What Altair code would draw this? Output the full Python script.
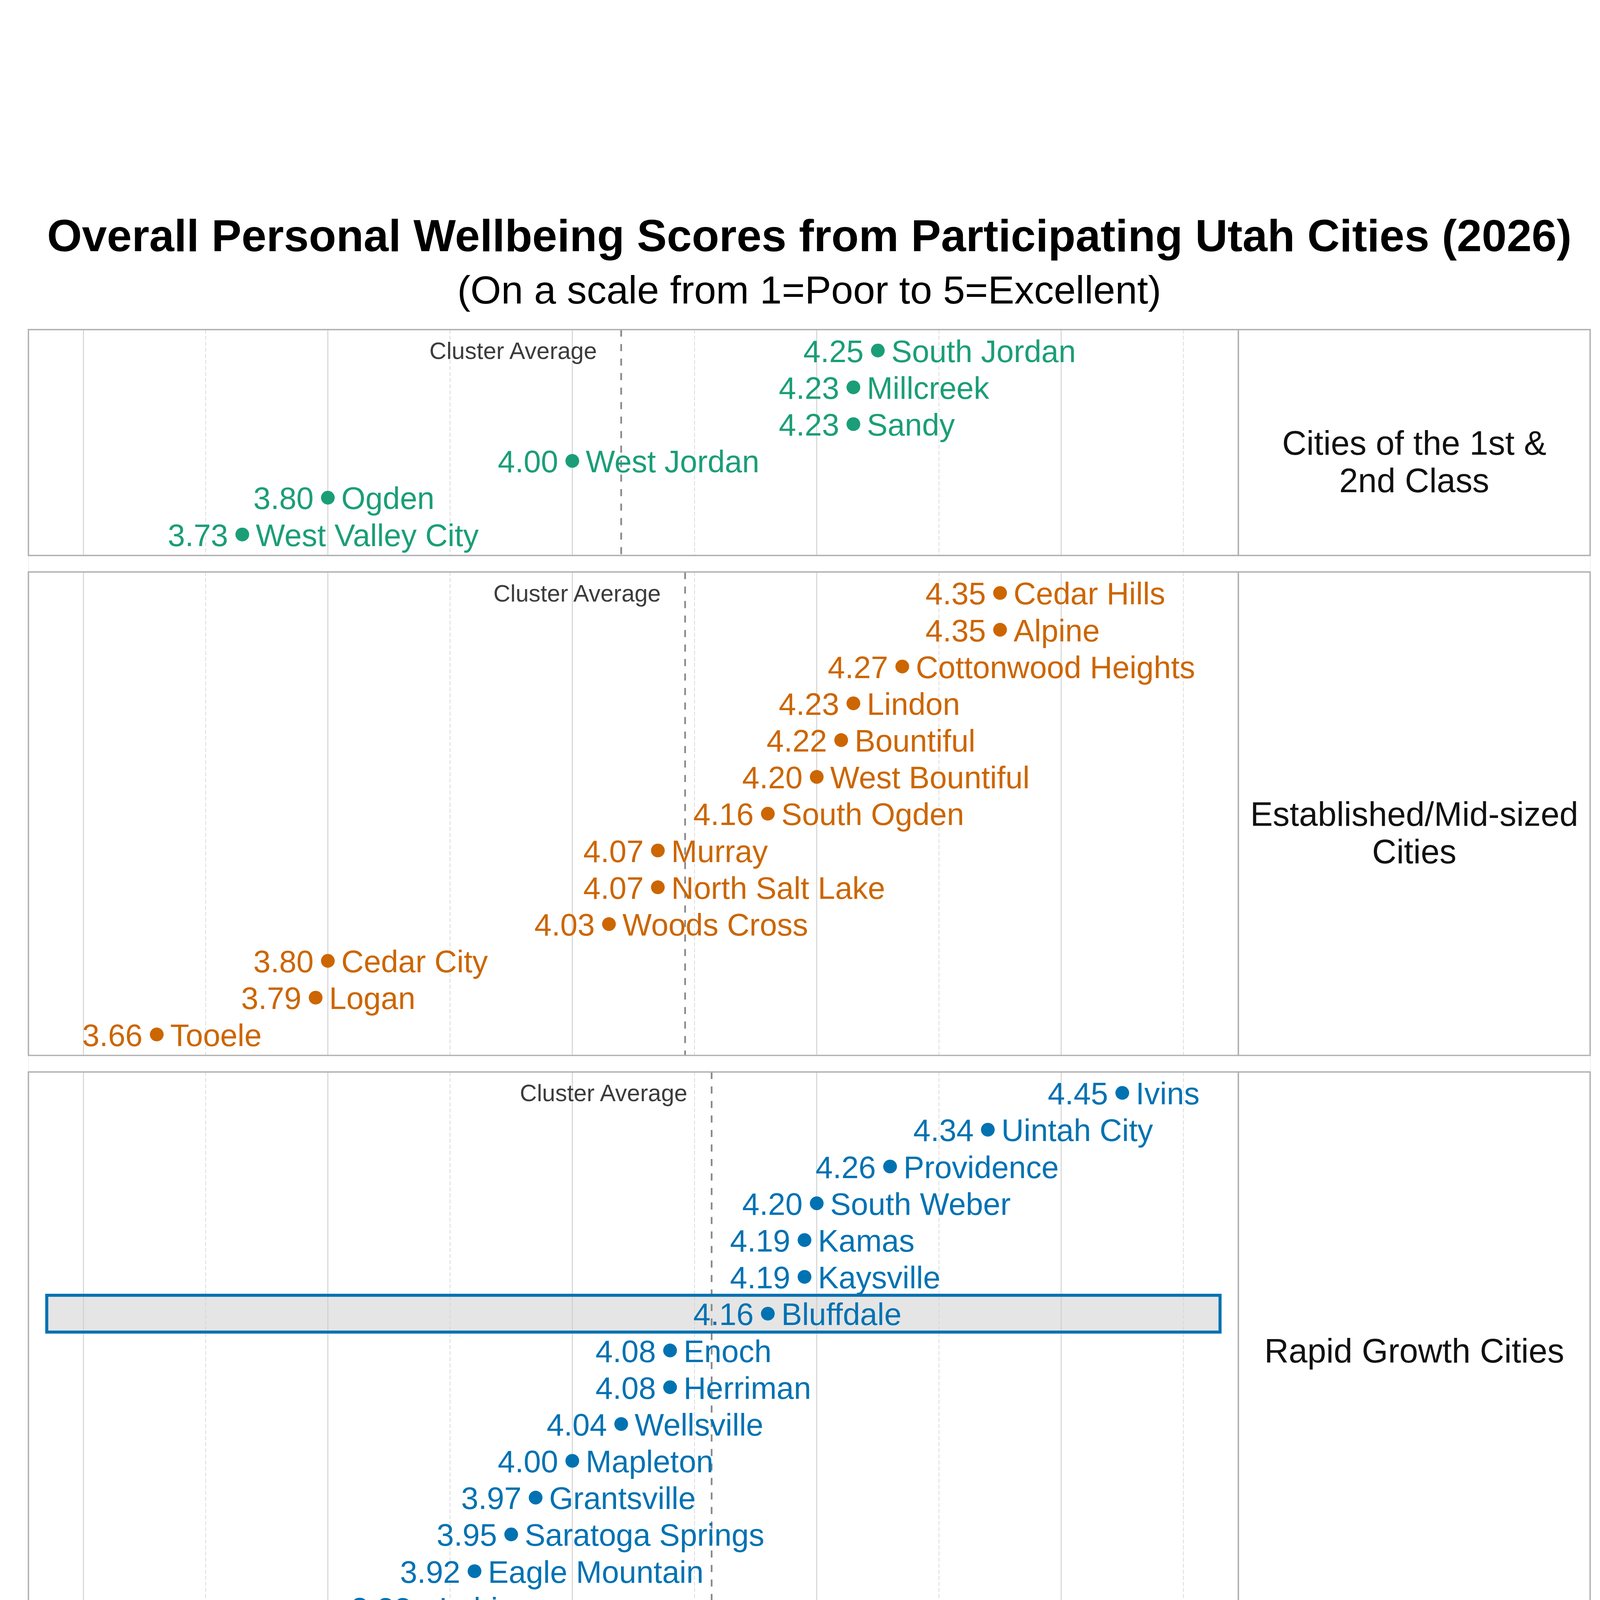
import altair as alt
import pandas as pd

FONT = "Liberation Sans"

TITLE = "Overall Personal Wellbeing Scores from Participating Utah Cities (2026)"
SUBTITLE = "(On a scale from 1=Poor to 5=Excellent)"
X_TITLE = "Average Score"
AVG_LABEL = "Cluster Average"

CLUSTERS = [
    "Cities of the 1st & 2nd Class",
    "Established/Mid-sized Cities",
    "Rapid Growth Cities",
    "Rural Hub/Resort Communities",
    "Traditional Rural Communities",
]
STRIP_LABELS = [
    "Cities of the 1st &\n2nd Class",
    "Established/Mid-sized\nCities",
    "Rapid Growth Cities",
    "Rural Hub/Resort\nCommunities",
    "Traditional Rural\nCommunities",
]
COLORS = ["#1b9e77", "#cc6600", "#0072b2", "#b01a2e", "#6a3d9a"]

cities1 = ["South Jordan", "Millcreek", "Sandy", "West Jordan", "Ogden", "West Valley City"]
scores1 = [4.25, 4.23, 4.23, 4.00, 3.80, 3.73]

cities2 = ["Cedar Hills", "Alpine", "Cottonwood Heights", "Lindon", "Bountiful",
           "West Bountiful", "South Ogden", "Murray", "North Salt Lake", "Woods Cross",
           "Cedar City", "Logan", "Tooele"]
scores2 = [4.35, 4.35, 4.27, 4.23, 4.22, 4.20, 4.16, 4.07, 4.07, 4.03, 3.80, 3.79, 3.66]

cities3 = ["Ivins", "Uintah City", "Providence", "South Weber", "Kamas", "Kaysville",
           "Bluffdale", "Enoch", "Herriman", "Wellsville", "Mapleton", "Grantsville",
           "Saratoga Springs", "Eagle Mountain", "Lehi"]
scores3 = [4.45, 4.34, 4.26, 4.20, 4.19, 4.19, 4.16, 4.08, 4.08, 4.04, 4.00, 3.97,
           3.95, 3.92, 3.88]

cities4 = ["Alta", "Midway", "Springdale", "Morgan", "Heber", "Manila", "Nephi",
           "Richfield", "Bluff", "Moab", "Blanding", "Vernal", "Tremonton", "Wendover"]
scores4 = [4.44, 4.38, 4.27, 4.23, 4.19, 4.13, 4.01, 3.99, 3.98, 3.81, 3.78, 3.75,
           3.72, 3.67]

cities5 = ["Mayfield", "Toquerville", "Lewiston", "Lake Point", "La Verkin",
           "Orangeville", "Stockton", "Ferron", "Delta"]
scores5 = [4.27, 4.24, 4.22, 4.13, 3.97, 3.96, 3.92, 3.89, 3.77]

CITIES = [cities1, cities2, cities3, cities4, cities5]
SCORES = [scores1, scores2, scores3, scores4, scores5]

MAJOR_TICKS = [3.6, 3.8, 4.0, 4.2, 4.4]
MINOR_TICKS = [3.7, 3.9, 4.1, 4.3, 4.5]
HIGHLIGHT_CITY = "Bluffdale"
HIGHLIGHT_X = [3.57, 4.53]

# ---- layout (pixels) ----
PX_PER_UNIT = 3624.2
PLOT_W = 3588
STRIP_W = 1043
ROW_H = 109.1            # pixels per row
EDGE = 0.57              # rows between panel edge and first/last dot
GAP = 49 / ROW_H         # gap between panels, in rows
TITLE_Y = -232           # title baseline, relative to top of first panel
SUBTITLE_Y = -77

X_MIN = 3.555
X_PLOT_MAX = X_MIN + PLOT_W / PX_PER_UNIT
X_MAX = X_PLOT_MAX + STRIP_W / PX_PER_UNIT
X_STRIP_MID = (X_PLOT_MAX + X_MAX) / 2

rows, panels = [], []
t = 0.0
for k, (cities, scores) in enumerate(zip(CITIES, SCORES)):
    n = len(cities)
    top, bot = t, t + n - 1 + 2 * EDGE
    panels.append({"cluster": CLUSTERS[k], "label": STRIP_LABELS[k], "top": top,
                   "bot": bot, "mid": (top + bot) / 2})
    for i, (c, s) in enumerate(zip(cities, scores)):
        rows.append({"cluster": CLUSTERS[k], "city": c, "score": s, "idx": i,
                     "ry": top + EDGE + i, "top": top, "bot": bot})
    t = bot + GAP
TOTAL = t - GAP

df = pd.DataFrame(rows)
pdf = pd.DataFrame(panels)
grid_major = pd.DataFrame([{"v": v, "top": p["top"], "bot": p["bot"]}
                           for p in panels for v in MAJOR_TICKS])
grid_minor = pd.DataFrame([{"v": v, "top": p["top"], "bot": p["bot"]}
                           for p in panels for v in MINOR_TICKS])
titles = pd.DataFrame({"t": [TITLE]})

W = PLOT_W + STRIP_W
H = round(TOTAL * ROW_H)

xscale = alt.Scale(domain=[X_MIN, X_MAX], nice=False, zero=False)
yscale = alt.Scale(domain=[0, TOTAL], nice=False, zero=False, reverse=True)
xaxis = alt.Axis(values=MAJOR_TICKS, format=".1f", title=X_TITLE, grid=False,
                 ticks=False, tickSize=0, domain=False, labelFontSize=75,
                 titleFontSize=83, labelPadding=16, titlePadding=41,
                 labelColor="#000000", titleColor="#000000", titleX=PLOT_W / 2,
                 titleFontWeight="normal", labelFont=FONT, titleFont=FONT,
                 labelFlush=False)


def X(f):
    return alt.X(f, scale=xscale, axis=xaxis)


def XD(v):
    return alt.XDatum(v, type="quantitative", scale=xscale, axis=xaxis)


def Y(f):
    return alt.Y(f, scale=yscale, axis=None)


color = alt.Color("cluster:N", scale=alt.Scale(domain=CLUSTERS, range=COLORS), legend=None)

base = alt.Chart(df)

hl = base.transform_filter(alt.datum.city == HIGHLIGHT_CITY).transform_calculate(
    y0="datum.ry - 0.5", y1="datum.ry + 0.5")
hl_fill = hl.mark_rect(fill="#e5e5e5").encode(
    x=XD(HIGHLIGHT_X[0]), x2=alt.X2Datum(HIGHLIGHT_X[1]), y=Y("y0:Q"), y2="y1:Q")
hl_line = hl.mark_rect(filled=False, stroke="#0072b2", strokeWidth=9).encode(
    x=XD(HIGHLIGHT_X[0]), x2=alt.X2Datum(HIGHLIGHT_X[1]), y=Y("y0:Q"), y2="y1:Q")

gmaj = alt.Chart(grid_major).mark_rule(color="#cccccc", strokeWidth=2.5).encode(
    x=X("v:Q"), y=Y("top:Q"), y2="bot:Q")
gmin = alt.Chart(grid_minor).mark_rule(color="#d4d4d4", strokeWidth=2,
                                       strokeDash=[12, 6]).encode(
    x=X("v:Q"), y=Y("top:Q"), y2="bot:Q")

avg = base.transform_joinaggregate(avg="mean(score)", groupby=["cluster"]).transform_filter(
    alt.datum.idx == 0)
avg_rule = avg.mark_rule(color="#888888", strokeWidth=5, strokeDash=[21, 22]).encode(
    x=X("avg:Q"), y=Y("top:Q"), y2="bot:Q")
avg_text = avg.mark_text(text=AVG_LABEL, align="right", baseline="middle", dx=-72, dy=4,
                         fontSize=70, color="#3c3c3c", font=FONT).encode(
    x=X("avg:Q"), y=Y("ry:Q"))

box_plot = alt.Chart(pdf).mark_rect(filled=False, stroke="#b0b0b0", strokeWidth=4).encode(
    x=XD(X_MIN), x2=alt.X2Datum(X_PLOT_MAX), y=Y("top:Q"), y2="bot:Q")
box_strip = alt.Chart(pdf).mark_rect(filled=False, stroke="#b0b0b0", strokeWidth=4).encode(
    x=XD(X_PLOT_MAX), x2=alt.X2Datum(X_MAX), y=Y("top:Q"), y2="bot:Q")
strip_text = alt.Chart(pdf).mark_text(
    fontSize=100, lineHeight=111, lineBreak="\n", align="center", baseline="middle",
    dy=6, color="#111111", font=FONT).encode(
    x=XD(X_STRIP_MID), y=Y("mid:Q"), text="label:N")

points = base.mark_circle(size=1660, opacity=1).encode(
    x=X("score:Q"), y=Y("ry:Q"), color=color)
val_text = base.mark_text(align="right", baseline="middle", dx=-42, dy=6,
                          fontSize=92, font=FONT).encode(
    x=X("score:Q"), y=Y("ry:Q"), color=color, text=alt.Text("score:Q", format=".2f"))
name_text = base.mark_text(align="left", baseline="middle", dx=40, dy=6,
                           fontSize=92, font=FONT).encode(
    x=X("score:Q"), y=Y("ry:Q"), color=color, text="city:N")

title_text = alt.Chart(titles).mark_text(
    text=TITLE, fontSize=133, fontWeight="bold", align="center", baseline="alphabetic",
    color="#000000", font=FONT).encode(x=alt.value(W / 2), y=alt.value(TITLE_Y))
subtitle_text = alt.Chart(titles).mark_text(
    text=SUBTITLE, fontSize=117, align="center", baseline="alphabetic",
    color="#000000", font=FONT).encode(x=alt.value(W / 2), y=alt.value(SUBTITLE_Y))

chart = alt.layer(
    hl_fill, gmaj, gmin, avg_rule, box_plot, box_strip, hl_line, avg_text,
    points, val_text, name_text, strip_text, title_text, subtitle_text,
).properties(
    width=W, height=H,
    autosize=alt.AutoSizeParams(type="none"),
    padding={"left": 75, "top": 401, "right": 20, "bottom": 270},
).configure_view(stroke=None).configure(font=FONT)

chart.save("out.html", embed_options={"renderer": "svg", "actions": False})
